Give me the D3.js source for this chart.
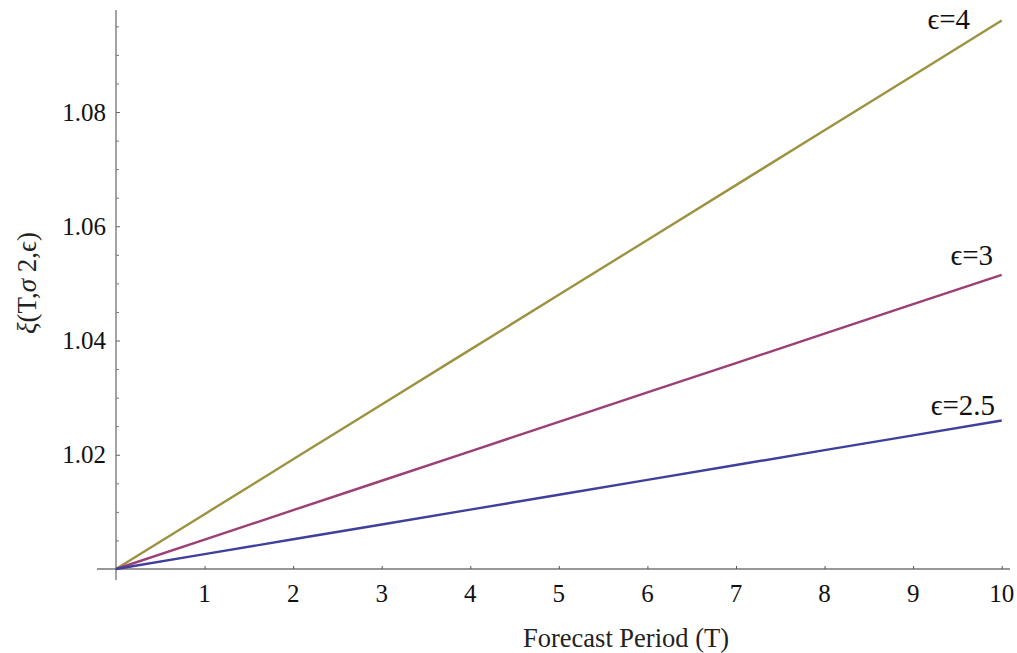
<!DOCTYPE html>
<html>
<head>
<meta charset="utf-8">
<script src="https://cdn.jsdelivr.net/npm/d3@7"></script>
<style>
  html, body { margin: 0; padding: 0; background: #fff; }
  svg { display: block; font-family: "Liberation Serif", "DejaVu Serif", serif; }
</style>
</head>
<body>
<svg id="chart" width="1017" height="653"></svg>
<script>
// ---- data ----
const periods = [0, 1, 2, 3, 4, 5, 6, 7, 8, 9, 10];
const xiEps4   = [1.0, 1.0096, 1.0192, 1.0288, 1.0384, 1.048, 1.0576, 1.0672, 1.0768, 1.0864, 1.096];
const xiEps3   = [1.0, 1.00515, 1.0103, 1.01545, 1.0206, 1.02575, 1.0309, 1.03605, 1.0412, 1.04635, 1.0515];
const xiEps25  = [1.0, 1.0026, 1.0052, 1.0078, 1.0104, 1.013, 1.0156, 1.0182, 1.0208, 1.0234, 1.026];
const seriesLabels = ["\u03f5=4", "\u03f5=3", "\u03f5=2.5"];
const xTicks = [1, 2, 3, 4, 5, 6, 7, 8, 9, 10];
const yTicks = [1.02, 1.04, 1.06, 1.08];
const yMinorTicks = [1.005, 1.01, 1.015, 1.025, 1.03, 1.035, 1.045, 1.05, 1.055, 1.065, 1.07, 1.075, 1.085, 1.09, 1.095];

const colors = ["#9c9240", "#9c3f74", "#3f3f9c"];
const seriesValues = [xiEps4, xiEps3, xiEps25];

// ---- layout ----
const svg = d3.select("#chart");
const x = d3.scaleLinear().domain([0, 10]).range([116, 1001.7]);
const y = d3.scaleLinear().domain([1.0, 1.08]).range([569, 112]);

// y axis line
svg.append("line")
  .attr("x1", x(0)).attr("x2", x(0))
  .attr("y1", 10).attr("y2", 580)
  .attr("stroke", "#666").attr("stroke-width", 1.2);
// x axis line
svg.append("line")
  .attr("x1", 97).attr("x2", 1010)
  .attr("y1", y(1.0)).attr("y2", y(1.0))
  .attr("stroke", "#333").attr("stroke-width", 1.2);

// y ticks (inside, to the right)
const yAxis = d3.axisRight(y).tickValues(yTicks).tickSize(4).tickFormat("");
const gy = svg.append("g").attr("transform", `translate(${x(0)},0)`).call(yAxis);
gy.select(".domain").remove();
gy.selectAll(".tick line").attr("stroke", "#666");
const yAxisMinor = d3.axisRight(y).tickValues(yMinorTicks).tickSize(3).tickFormat("");
const gym = svg.append("g").attr("transform", `translate(${x(0)},0)`).call(yAxisMinor);
gym.select(".domain").remove();
gym.selectAll(".tick line").attr("stroke", "#777");

// y tick labels
svg.append("g").selectAll("text").data(yTicks).join("text")
  .attr("x", 106).attr("y", d => y(d) + 8.5)
  .attr("text-anchor", "end")
  .attr("font-size", 25).attr("fill", "#111")
  .text(d => d3.format(".2f")(d));

// x ticks (inside, upward)
const xAxis = d3.axisTop(x).tickValues(xTicks).tickSize(3).tickFormat("");
const gx = svg.append("g").attr("transform", `translate(0,${y(1.0)})`).call(xAxis);
gx.select(".domain").remove();
gx.selectAll(".tick line").attr("stroke", "#555");

// x tick labels
svg.append("g").selectAll("text").data(xTicks).join("text")
  .attr("x", d => x(d)).attr("y", 602)
  .attr("text-anchor", "middle")
  .attr("font-size", 25).attr("fill", "#111")
  .text(d => d);

// axis titles
svg.append("text")
  .attr("x", 626).attr("y", 647)
  .attr("text-anchor", "middle")
  .attr("font-size", 26.5).attr("fill", "#222")
  .text("Forecast Period (T)");

const yt = svg.append("text")
  .attr("transform", "translate(36,283) rotate(-90)")
  .attr("text-anchor", "middle")
  .attr("font-size", 27).attr("fill", "#222");
yt.append("tspan").attr("font-style", "italic").text("\u03be");
yt.append("tspan").text("(T,");
yt.append("tspan").attr("font-style", "italic").text("\u03c3");
yt.append("tspan").text(" 2,\u03f5)");

// series lines
const line = d3.line().x((d, i) => x(periods[i])).y(d => y(d));
svg.append("g").selectAll("path").data(seriesValues).join("path")
  .attr("d", d => line(d))
  .attr("fill", "none")
  .attr("stroke", (d, i) => colors[i])
  .attr("stroke-width", 2.4);

// series labels near line ends
const labelPos = [[970, 29], [993, 265], [995, 415]];
svg.append("g").selectAll("text").data(seriesLabels).join("text")
  .attr("x", (d, i) => labelPos[i][0])
  .attr("y", (d, i) => labelPos[i][1])
  .attr("text-anchor", "end")
  .attr("font-size", 29).attr("fill", "#111")
  .text(d => d);
</script>
</body>
</html>
